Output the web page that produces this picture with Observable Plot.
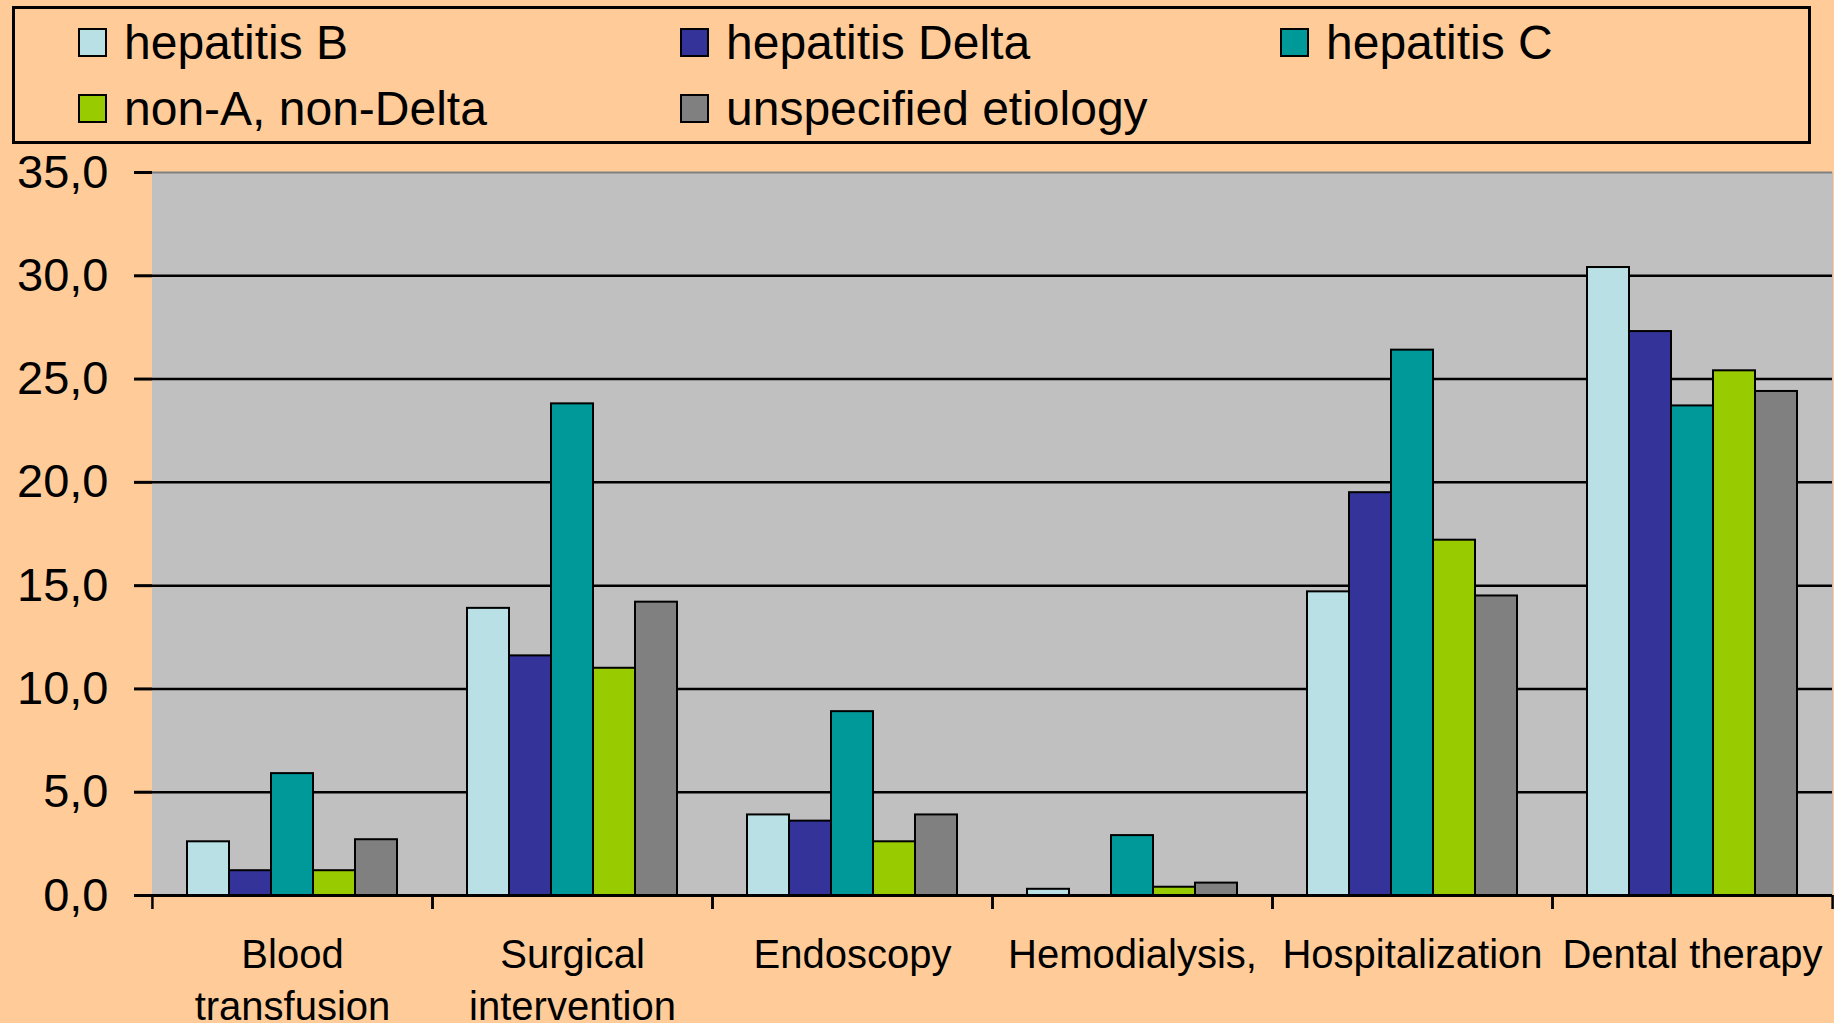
<!DOCTYPE html>
<html>
<head>
<meta charset="utf-8">
<script src="https://cdn.jsdelivr.net/npm/d3@7"></script>
<script src="https://cdn.jsdelivr.net/npm/@observablehq/plot@0.6"></script>
<style>
  html, body { margin: 0; padding: 0; background: #FFCC99; overflow: hidden; width: 1834px; height: 1023px; }
  body { font-family: "Liberation Sans", Arial, sans-serif; position: relative; }
  #legend { position: relative; width: 1834px; height: 150px; }
  #legend .box { position: absolute; left: 12px; top: 6px; width: 1793px; height: 132px; border: 3px solid #000; }
  #legend .sw { position: absolute; width: 25px; height: 25px; border: 2px solid #000; }
  #legend .lab { position: absolute; font-size: 48px; line-height: 48px; white-space: nowrap; color: #000; }
  #chart { position: absolute; left: 0; top: 150px; }
</style>
</head>
<body>
<div id="legend"><div class="box"></div></div>
<div id="chart"></div>
<script>
// ---- data ----
const categories = ["Blood transfusion", "Surgical intervention", "Endoscopy", "Hemodialysis", "Hospitalization", "Dental therapy"];
const categoryLabels = ["Blood\ntransfusion", "Surgical\nintervention", "Endoscopy", "Hemodialysis,", "Hospitalization", "Dental therapy"];
const series = ["hepatitis B", "hepatitis Delta", "hepatitis C", "non-A, non-Delta", "unspecified etiology"];
const seriesColors = ["#B9E0E4", "#333399", "#009999", "#99CC00", "#808080"];
const hepatitisB = [2.6, 13.9, 3.9, 0.3, 14.7, 30.4];
const hepatitisDelta = [1.2, 11.6, 3.6, 0.0, 19.5, 27.3];
const hepatitisC = [5.9, 23.8, 8.9, 2.9, 26.4, 23.7];
const nonANonDelta = [1.2, 11.0, 2.6, 0.4, 17.2, 25.4];
const unspecified = [2.7, 14.2, 3.9, 0.6, 14.5, 24.4];
const yTicks = [0, 5, 10, 15, 20, 25, 30, 35];

const seriesValues = [hepatitisB, hepatitisDelta, hepatitisC, nonANonDelta, unspecified];
const rows = [];
categories.forEach((c, i) => {
  series.forEach((s, j) => {
    rows.push({category: c, series: s, value: seriesValues[j][i]});
  });
});

// ---- legend (HTML, above the SVG) ----
const legend = document.getElementById("legend");
const colLeft = [78, 680, 1280];
const rowSquareTop = [28, 94];
const rowTextTop = [19, 85];
series.forEach((s, j) => {
  const col = j < 3 ? j : j - 3;
  const row = j < 3 ? 0 : 1;
  const sw = document.createElement("div");
  sw.className = "sw";
  sw.style.left = colLeft[col] + "px";
  sw.style.top = rowSquareTop[row] + "px";
  sw.style.background = seriesColors[j];
  legend.appendChild(sw);
  const lab = document.createElement("div");
  lab.className = "lab";
  lab.style.left = (colLeft[col] + 46) + "px";
  lab.style.top = rowTextTop[row] + "px";
  lab.textContent = s;
  legend.appendChild(lab);
});

// ---- chart ----
const W = 1834, H = 873;
const mL = 151, mR = 2, mT = 22, mB = 128;
const half = (W - mL - mR) / categories.length / 2;
const fmt = d => d.toFixed(1).replace(".", ",");

const chart = Plot.plot({
  width: W,
  height: H,
  marginTop: mT,
  marginBottom: mB,
  marginLeft: mL,
  marginRight: mR,
  style: {background: "transparent", fontFamily: "'Liberation Sans', Arial, sans-serif", color: "#000", overflow: "visible"},
  fx: {domain: categories, padding: 0, axis: null, label: null},
  x: {domain: series, paddingInner: 0, paddingOuter: 0.77, axis: null},
  y: {domain: [0, 35], axis: null},
  color: {domain: series, range: seriesColors},
  marks: [
    Plot.frame({fill: "#C0C0C0", stroke: "#C0C0C0", strokeWidth: 1}),
    Plot.gridY({ticks: yTicks.filter(v => v > 0 && v < 35), stroke: "#000", strokeOpacity: 1, strokeWidth: 2.5}),
    Plot.ruleY([35], {stroke: "#808080", strokeWidth: 2}),
    Plot.barY(rows.filter(d => d.value > 0), {fx: "category", x: "series", y: "value", fill: "series", stroke: "#000", strokeWidth: 2}),
    Plot.ruleY([0], {stroke: "#000", strokeWidth: 3}),
    Plot.axisY({ticks: yTicks, tickFormat: fmt, tickSize: 18, tickPadding: 26, fontSize: 47, strokeWidth: 3, line: true, label: null}),
    Plot.axisFx({anchor: "bottom", tickSize: 0, tickPadding: 36, fontSize: 40, lineHeight: 1.3, label: null,
      tickFormat: d => categoryLabels[categories.indexOf(d)]}),
    Plot.axisFx({anchor: "bottom", tickSize: 14, strokeWidth: 2.5, dx: -half, tickFormat: () => "", label: null}),
    Plot.axisFx({anchor: "bottom", tickSize: 14, strokeWidth: 2.5, dx: half, tickFormat: () => "", label: null})
  ]
});
document.getElementById("chart").appendChild(chart);
</script>
</body>
</html>
